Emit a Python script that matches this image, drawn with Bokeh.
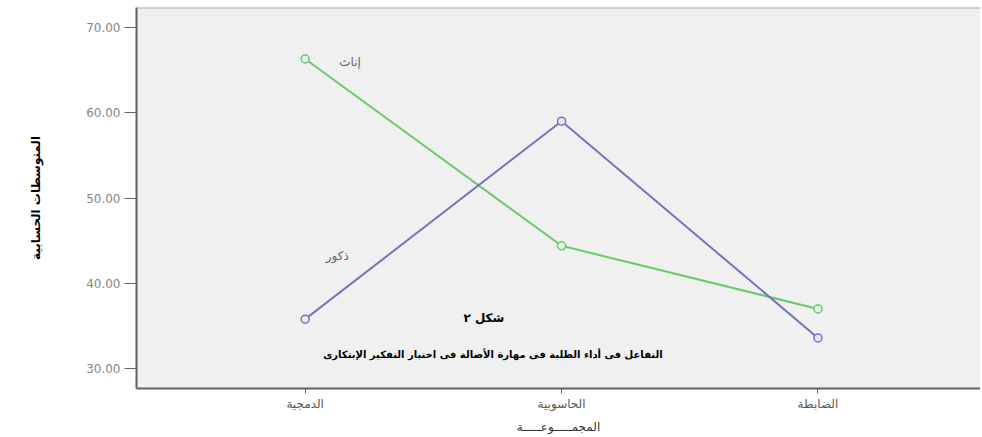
from bokeh.plotting import figure
from bokeh.models import Range1d, FixedTicker, NumeralTickFormatter, Label, Span
from bokeh.embed import file_html
from bokeh.resources import INLINE

categories = ["الدمجية", "الحاسوبية", "الضابطة"]
females = [66.3, 44.4, 37.0]
males = [35.8, 59.0, 33.6]
y_ticks = [30, 40, 50, 60, 70]

series_names = ["إناث", "ذكور"]
title_text = "شكل ٢"
caption_text = "التفاعل فى أداء الطلبة فى مهارة الأصالة فى اختبار التفكير الإبتكارى"
y_label = "المتوسطات الحسابية"
x_label = "المجمـــــوعـــــة"

xs = list(range(len(categories)))
y_lo, y_hi = 27.67, 72.33

p = figure(width=980, height=436, output_backend="svg", toolbar_location=None,
           x_range=Range1d(-0.658, 2.634), y_range=Range1d(y_lo, y_hi),
           min_border_left=136, min_border_right=0, min_border_top=7,
           min_border_bottom=46)

p.background_fill_color = "#f0f0f0"
p.border_fill_color = "white"
p.outline_line_color = None
p.grid.visible = False

# top border line of the plot area
p.add_layout(Span(location=y_hi, dimension="width", line_color="#a8a8a8", line_width=2))

green = "#6cc86c"
blue = "#7276b8"

p.line(xs, females, line_color=green, line_width=2)
p.scatter(xs, females, marker="circle", size=8, line_color=green, fill_color="#e8f4e8", line_width=1.5)
p.line(xs, males, line_color=blue, line_width=2)
p.scatter(xs, males, marker="circle", size=8, line_color=blue, fill_color="#e6e8f6", line_width=1.5)

# y axis
ya = p.yaxis[0]
ya.ticker = FixedTicker(ticks=y_ticks)
ya.formatter = NumeralTickFormatter(format="0.00")
ya.major_tick_out = 12
ya.major_tick_in = 0
ya.minor_tick_out = 0
ya.minor_tick_in = 0
ya.major_label_standoff = 4
ya.major_label_text_font = "DejaVu Sans"
ya.major_label_text_font_size = "12px"
ya.major_label_text_color = "#858585"
ya.axis_line_color = "#606060"
ya.axis_line_width = 2
ya.major_tick_line_color = "#606060"
ya.axis_label = y_label
ya.axis_label_text_font = "DejaVu Sans"
ya.axis_label_text_font_style = "bold"
ya.axis_label_text_font_size = "12px"
ya.axis_label_text_color = "black"
ya.axis_label_standoff = 40

# x axis
xa = p.xaxis[0]
xa.ticker = FixedTicker(ticks=xs)
xa.major_label_overrides = {i: c for i, c in zip(xs, categories)}
xa.major_tick_out = 5
xa.major_tick_in = 0
xa.minor_tick_out = 0
xa.minor_tick_in = 0
xa.major_label_standoff = 3
xa.major_label_text_font = "DejaVu Sans"
xa.major_label_text_font_size = "12px"
xa.major_label_text_color = "#555555"
xa.axis_line_color = "#606060"
xa.axis_line_width = 2
xa.major_tick_line_color = "#606060"
xa.axis_label = x_label
xa.axis_label_text_font = "DejaVu Sans"
xa.axis_label_text_font_style = "normal"
xa.axis_label_text_font_size = "12px"
xa.axis_label_text_color = "#333333"
xa.axis_label_standoff = 6

# series labels
p.add_layout(Label(x=0.175, y=66.0, text=series_names[0], text_align="center", text_baseline="middle",
                   text_font="DejaVu Sans", text_font_size="12px", text_color="#666666"))
p.add_layout(Label(x=0.125, y=43.2, text=series_names[1], text_align="center", text_baseline="middle",
                   text_font="DejaVu Sans", text_font_size="12px", text_color="#666666"))

# figure caption
p.add_layout(Label(x=0.697, y=35.95, text=title_text, text_align="center", text_baseline="middle",
                   text_font="DejaVu Sans", text_font_style="bold", text_font_size="12px", text_color="black"))
p.add_layout(Label(x=0.732, y=31.6, text=caption_text, text_align="center", text_baseline="middle",
                   text_font="DejaVu Sans", text_font_style="bold", text_font_size="10px", text_color="black"))

open("out.html", "w").write(file_html(p, INLINE))
